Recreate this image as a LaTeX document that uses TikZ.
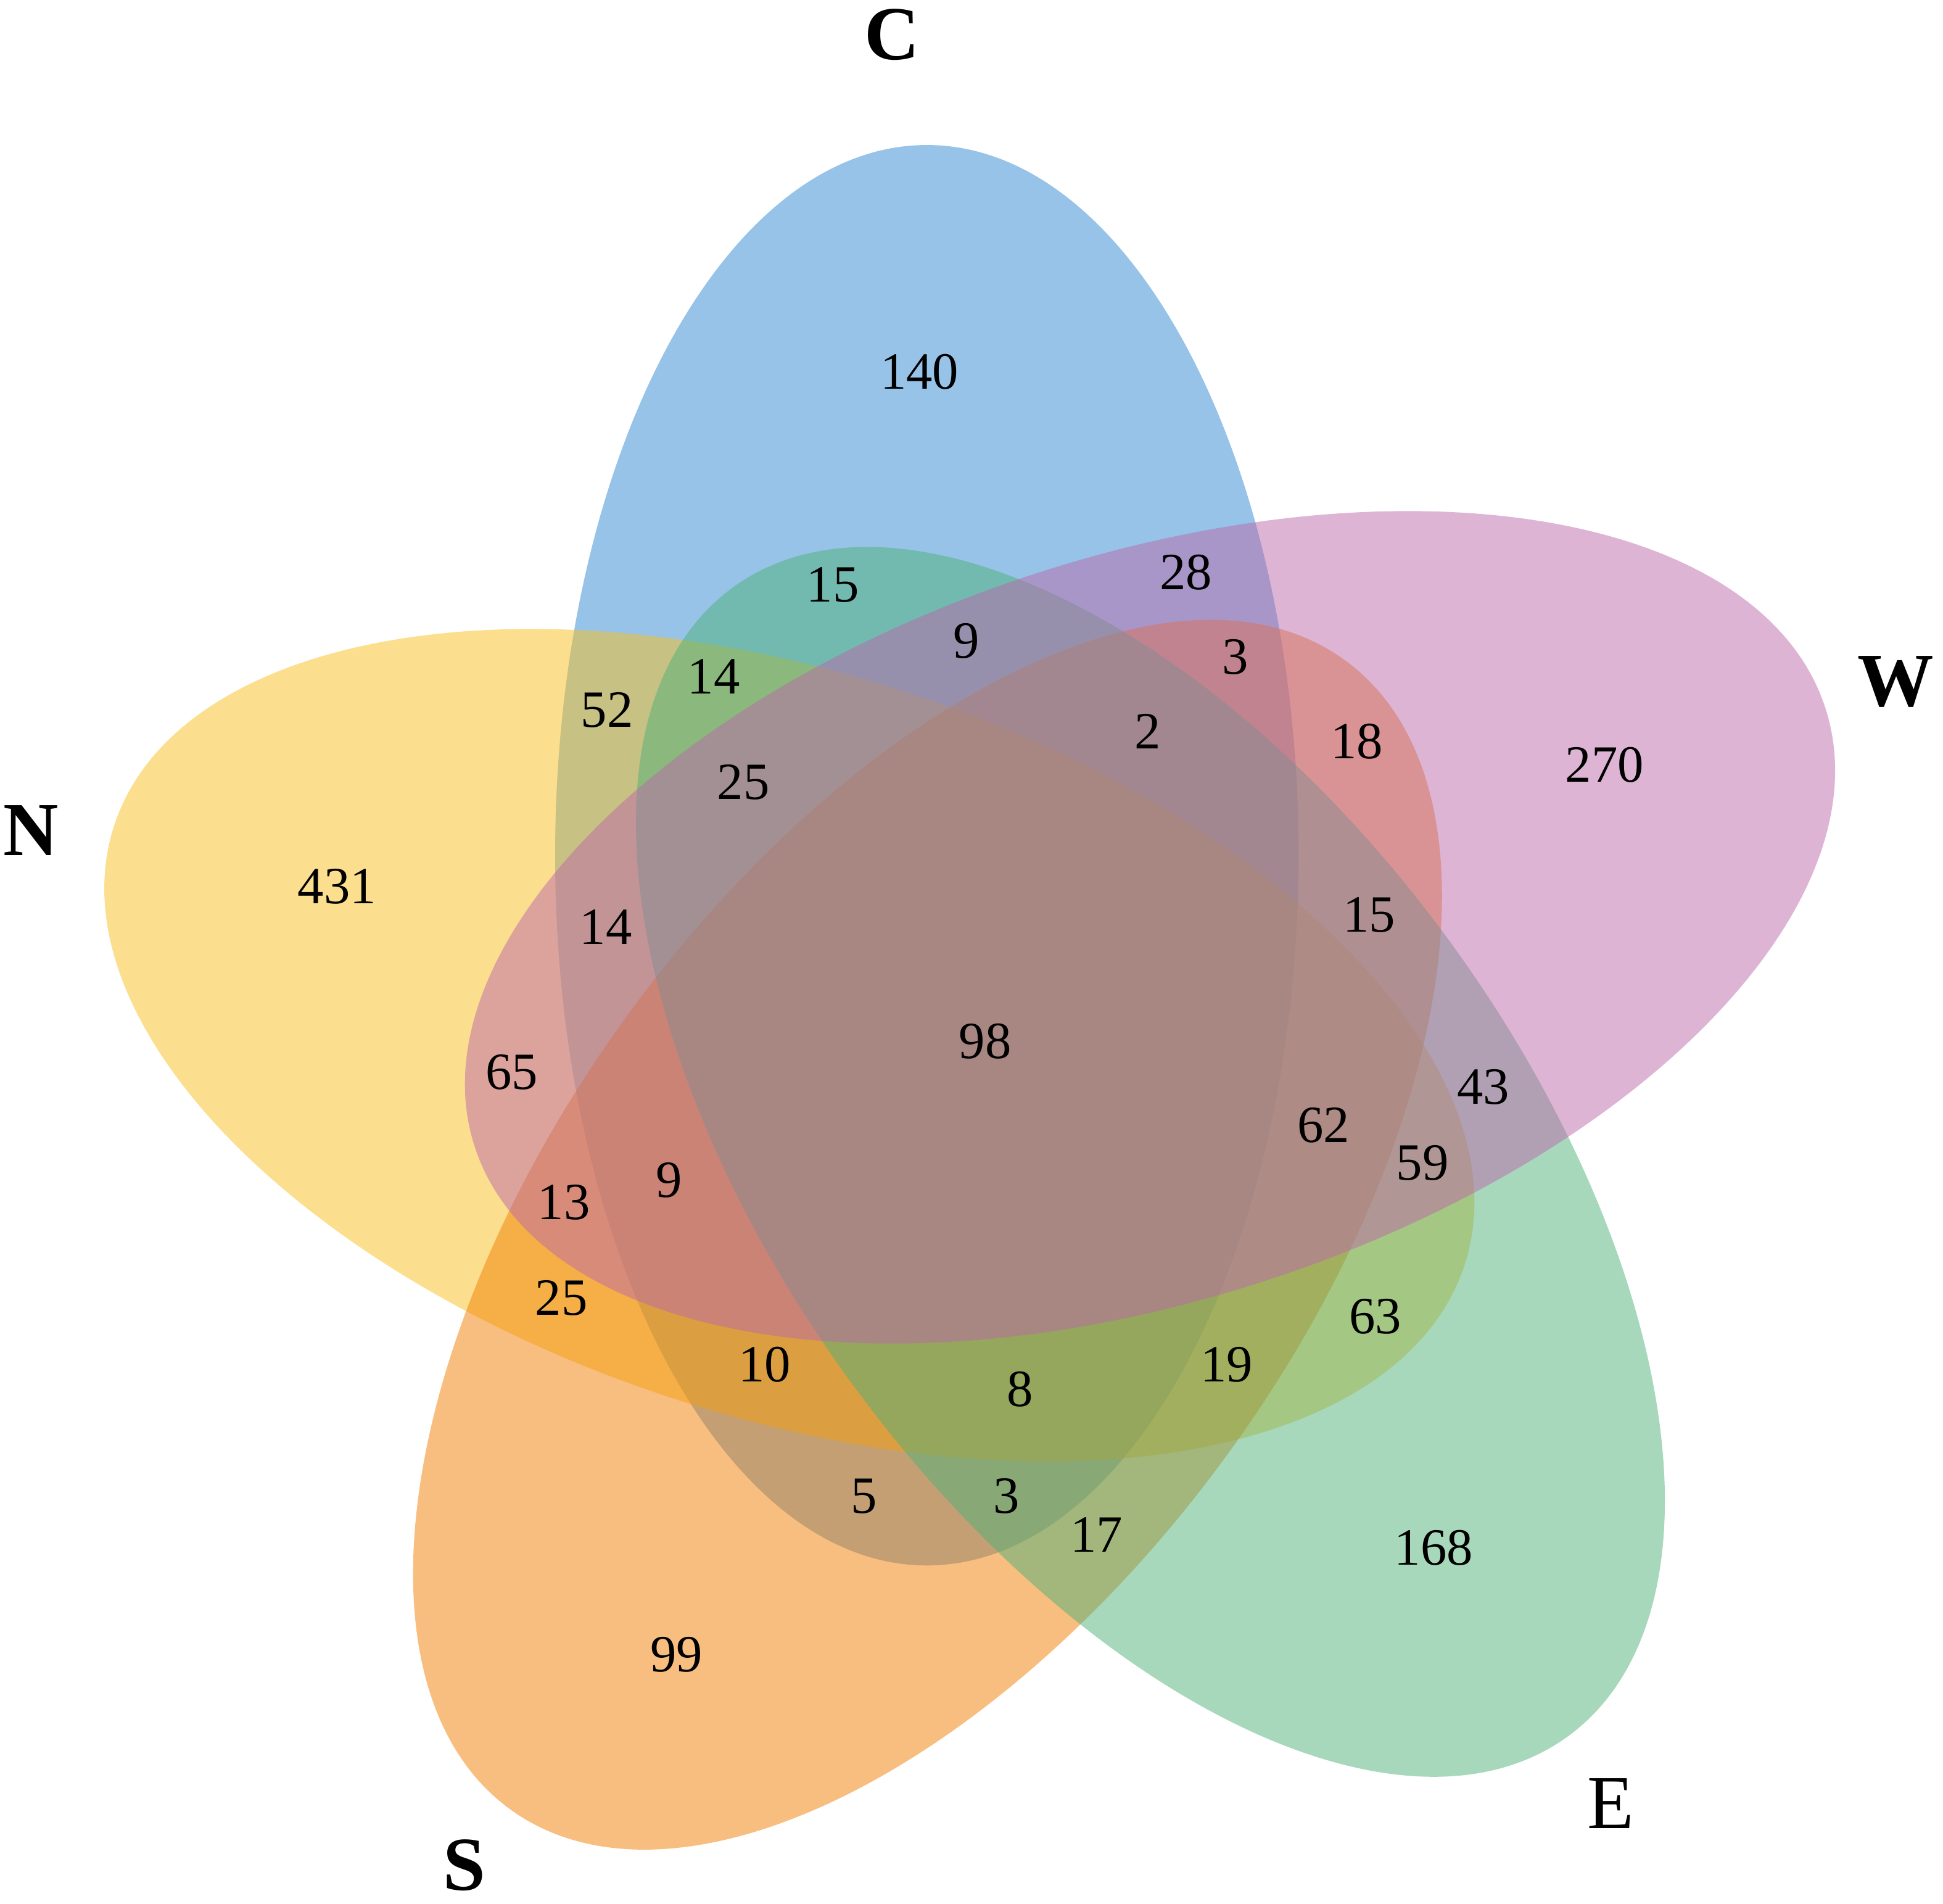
\documentclass[tikz,border=0pt]{standalone}
\usepackage{fontspec}
\setmainfont{Liberation Serif}

\definecolor{colC}{RGB}{47,135,209}
\definecolor{colW}{RGB}{189,105,171}
\definecolor{colE}{RGB}{79,177,121}
\definecolor{colS}{RGB}{241,125,1}
\definecolor{colN}{RGB}{247,191,31}

\tikzset{
  petal/.style={fill opacity=0.5},
  num/.style={font=\fontsize{12}{14}\selectfont, inner sep=0pt},
  setname/.style={font=\fontsize{17.5}{20}\selectfont\bfseries, inner sep=0pt},
}

\begin{document}
\begin{tikzpicture}[x=0.01cm,y=0.01cm]
        \useasboundingbox (0,0) rectangle (1568,-1536);
        \coordinate (O) at (798,-843);
        % C ellipse, the other four turned round O by steps of 72 degrees
        \fill[petal,fill=colC] (748,-690) ellipse [x radius=300,y radius=573];
        \fill[petal,fill=colN,rotate around={72:(O)}] (748,-690) ellipse [x radius=300,y radius=573];
        \fill[petal,fill=colS,rotate around={144:(O)}] (748,-690) ellipse [x radius=300,y radius=573];
        \fill[petal,fill=colE,rotate around={-144:(O)}] (748,-690) ellipse [x radius=300,y radius=573];
        \fill[petal,fill=colW,rotate around={-72:(O)}] (748,-690) ellipse [x radius=300,y radius=573];
        % set names
        \node[setname] (labC) at (720,-28) {C};
        \node[setname] (labW) at (1530,-550) {W};
        \node[setname] (labE) at (1300,-1455) {\mdseries E};
        \node[setname] (labS) at (375,-1505) {S};
        \node[setname] (labN) at (25,-670) {N};
        % counts
        \node[num] (nC) at (742,-300) {140};
        \node[num] (nW) at (1295,-617) {270};
        \node[num] (nE) at (1157,-1249) {168};
        \node[num] (nS) at (546,-1335) {99};
        \node[num] (nN) at (272,-715) {431};
        \node[num] (nCE) at (672,-472) {15};
        \node[num] (nCW) at (957,-462) {28};
        \node[num] (nCEW) at (780,-517) {9};
        \node[num] (nCSW) at (997,-530) {3};
        \node[num] (nCN) at (490,-573) {52};
        \node[num] (nCEN) at (576,-546) {14};
        \node[num] (nCESW) at (926,-590) {2};
        \node[num] (nSW) at (1095,-598) {18};
        \node[num] (nCENW) at (600,-631) {25};
        \node[num] (nCNW) at (489,-748) {14};
        \node[num] (nESW) at (1105,-738) {15};
        \node[num] (nall) at (795,-840) {98};
        \node[num] (nNW) at (413,-865) {65};
        \node[num] (nEW) at (1197,-877) {43};
        \node[num] (nENSW) at (1068,-908) {62};
        \node[num] (nENW) at (1148,-938) {59};
        \node[num] (nCNSW) at (540,-952) {9};
        \node[num] (nNSW) at (455,-970) {13};
        \node[num] (nNS) at (453,-1047) {25};
        \node[num] (nEN) at (1110,-1062) {63};
        \node[num] (nCNS) at (617,-1101) {10};
        \node[num] (nENS) at (990,-1101) {19};
        \node[num] (nCENS) at (823,-1121) {8};
        \node[num] (nCS) at (697,-1207) {5};
        \node[num] (nCES) at (812,-1207) {3};
        \node[num] (nES) at (885,-1238) {17};
\end{tikzpicture}
\end{document}
